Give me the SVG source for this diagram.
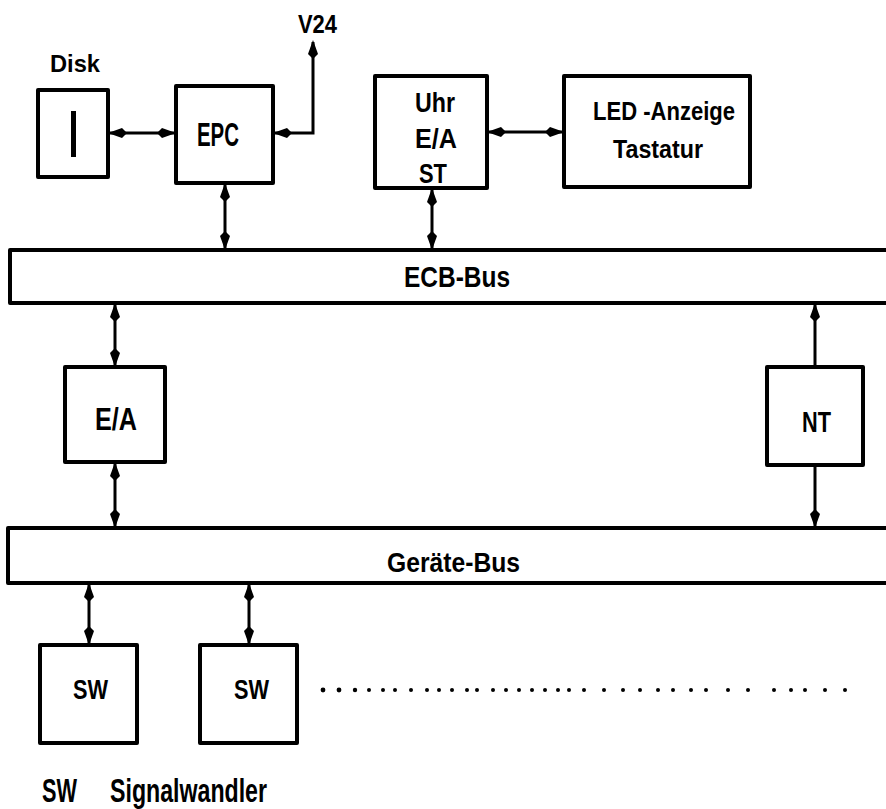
<svg xmlns="http://www.w3.org/2000/svg" width="886" height="809" viewBox="0 0 886 809">
<defs>
<style>
.box{fill:#fff;stroke:#000;stroke-width:4;stroke-linejoin:round}
.bus{fill:none;stroke:#000;stroke-width:4;stroke-linejoin:round}
.c{fill:none;stroke:#000;stroke-width:3}
.d{marker-start:url(#ah);marker-end:url(#ah)}
.e{marker-end:url(#ah)}
text{font-family:"Liberation Sans",Arial,sans-serif;font-weight:bold;fill:#000}
</style>
<marker id="ah" markerUnits="userSpaceOnUse" viewBox="-22 -7 24 14" refX="-2" refY="0" markerWidth="24" markerHeight="14" orient="auto-start-reverse">
<path d="M0,0 L-14,-5 L-19,0 L-14,5 Z" fill="#000"/>
</marker>
</defs>

<g id="connectors">
<line class="c d" x1="110" y1="133" x2="174" y2="133"/>
<polyline class="c d" points="275,133 313,133 313,42"/>
<line class="c d" x1="225" y1="185" x2="225" y2="248"/>
<line class="c d" x1="432" y1="190" x2="432" y2="248"/>
<line class="c d" x1="489" y1="132" x2="562" y2="132"/>
<line class="c d" x1="115" y1="305" x2="115" y2="365"/>
<line class="c d" x1="115" y1="464" x2="115" y2="526"/>
<line class="c e" x1="815" y1="367" x2="815" y2="305"/>
<line class="c e" x1="815" y1="465" x2="815" y2="526"/>
<line class="c d" x1="89" y1="585" x2="89" y2="643"/>
<line class="c d" x1="249" y1="585" x2="249" y2="643"/>
</g>

<g id="disk">
<rect class="box" x="38" y="90" width="70" height="87"/>
<rect x="71" y="111" width="5" height="46" fill="#000"/>
<text x="50" y="72" font-size="24" textLength="50" lengthAdjust="spacingAndGlyphs">Disk</text>
</g>
<g id="epc">
<rect class="box" x="176" y="86" width="97" height="97"/>
<text x="197" y="146" font-size="34" textLength="42" lengthAdjust="spacingAndGlyphs">EPC</text>
</g>
<g id="v24">
<text x="298" y="33" font-size="25" textLength="39" lengthAdjust="spacingAndGlyphs">V24</text>
</g>
<g id="uhr">
<rect class="box" x="375" y="76" width="112" height="112"/>
<text x="415" y="112" font-size="27" textLength="40" lengthAdjust="spacingAndGlyphs">Uhr</text>
<text x="415" y="148" font-size="27" textLength="42" lengthAdjust="spacingAndGlyphs">E/A</text>
<text x="419" y="183" font-size="27" textLength="28" lengthAdjust="spacingAndGlyphs">ST</text>
</g>
<g id="led">
<rect class="box" x="564" y="76" width="186" height="111"/>
<text x="593" y="120" font-size="26" textLength="142" lengthAdjust="spacingAndGlyphs">LED -Anzeige</text>
<text x="613" y="158" font-size="26" textLength="90" lengthAdjust="spacingAndGlyphs">Tastatur</text>
</g>
<g id="ecb-bus">
<path class="bus" d="M892,250 H10 V303 H892"/>
<text x="404" y="287" font-size="30" textLength="106" lengthAdjust="spacingAndGlyphs">ECB-Bus</text>
</g>
<g id="ea">
<rect class="box" x="65" y="367" width="100" height="95"/>
<text x="95" y="430" font-size="31" textLength="42" lengthAdjust="spacingAndGlyphs">E/A</text>
</g>
<g id="nt">
<rect class="box" x="767" y="367" width="96" height="98"/>
<text x="802" y="432" font-size="30" textLength="29" lengthAdjust="spacingAndGlyphs">NT</text>
</g>
<g id="geraete-bus">
<path class="bus" d="M892,528 H8 V583 H892"/>
<text x="387" y="572" font-size="28" textLength="133" lengthAdjust="spacingAndGlyphs">Geräte-Bus</text>
</g>
<g id="sw1">
<rect class="box" x="40" y="645" width="97" height="98"/>
<text x="73" y="699" font-size="28" textLength="35" lengthAdjust="spacingAndGlyphs">SW</text>
</g>
<g id="sw2">
<rect class="box" x="200" y="645" width="97" height="98"/>
<text x="234" y="699" font-size="28" textLength="35" lengthAdjust="spacingAndGlyphs">SW</text>
</g>
<g id="dots" fill="#000">
<circle cx="323" cy="690" r="2.4"/><circle cx="339" cy="690" r="2.4"/><circle cx="355" cy="690" r="2.2"/><circle cx="369" cy="690" r="2"/><circle cx="383" cy="690" r="2"/><circle cx="395" cy="690" r="2"/><circle cx="411" cy="690" r="2"/><circle cx="427" cy="690" r="2"/><circle cx="439" cy="690" r="2"/><circle cx="452" cy="690" r="2"/><circle cx="467" cy="690" r="2"/><circle cx="477" cy="690" r="2"/><circle cx="493" cy="690" r="2"/><circle cx="506" cy="690" r="2"/><circle cx="519" cy="690" r="2"/><circle cx="532" cy="690" r="2"/><circle cx="545" cy="690" r="2"/><circle cx="558" cy="690" r="2"/><circle cx="569" cy="690" r="2"/><circle cx="584" cy="690" r="2"/><circle cx="604" cy="690" r="2"/><circle cx="623" cy="690" r="2"/><circle cx="640" cy="690" r="2"/><circle cx="658" cy="690" r="2"/><circle cx="673" cy="690" r="2"/><circle cx="691" cy="690" r="2"/><circle cx="706" cy="690" r="2"/><circle cx="728" cy="690" r="2"/><circle cx="748" cy="690" r="2"/><circle cx="774" cy="690" r="2"/><circle cx="791" cy="690" r="2"/><circle cx="805" cy="690" r="2"/><circle cx="825" cy="690" r="2"/><circle cx="845" cy="690" r="2"/>
</g>
<g id="legend">
<text x="42" y="802" font-size="33" textLength="35" lengthAdjust="spacingAndGlyphs">SW</text>
<text x="110" y="802" font-size="33" textLength="157" lengthAdjust="spacingAndGlyphs">Signalwandler</text>
</g>
</svg>
